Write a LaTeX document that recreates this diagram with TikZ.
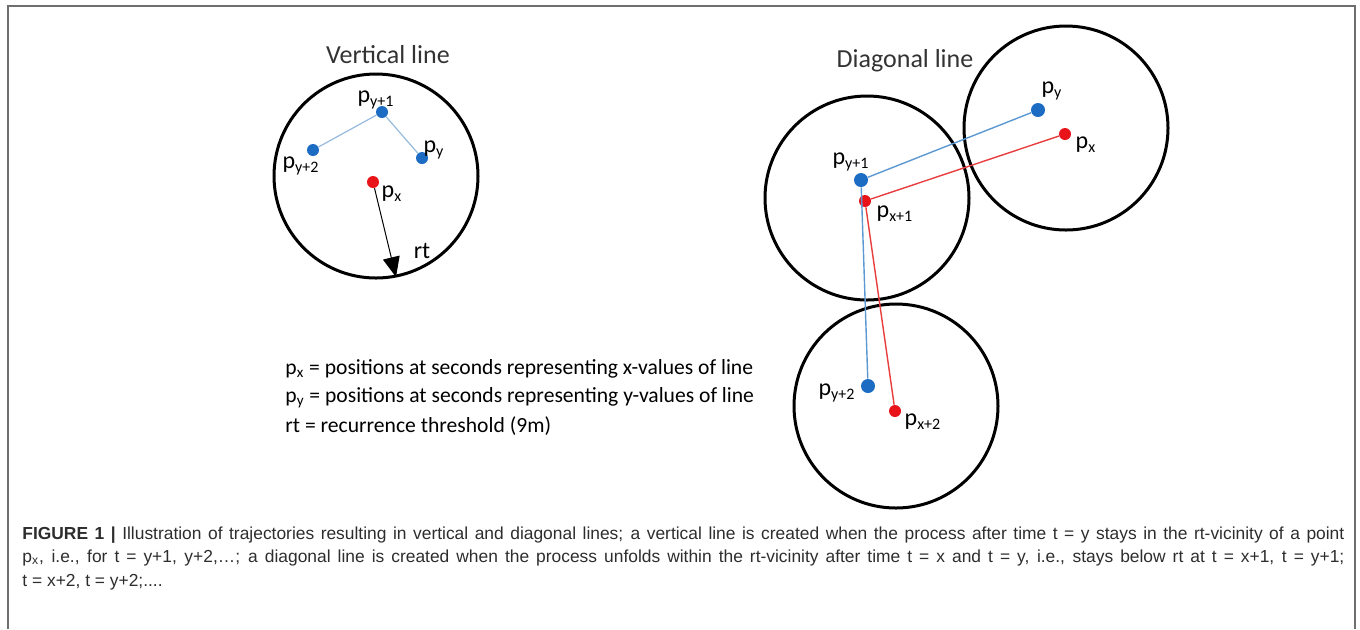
\documentclass[tikz,border=0pt]{standalone}
\usepackage{fontspec}
\setmainfont{Carlito}
\newfontfamily\capfont{Liberation Sans}
\usetikzlibrary{arrows.meta}

\definecolor{dotblue}{RGB}{28,108,196}
\definecolor{dotred}{RGB}{232,20,26}
\definecolor{lineblue}{RGB}{92,152,210}
\definecolor{paleblue}{RGB}{150,186,222}
\definecolor{linered}{RGB}{232,62,62}
\definecolor{framegray}{RGB}{110,110,110}
\definecolor{captext}{RGB}{45,45,45}

\tikzset{
  ring/.style={line width=1.5pt},
  bdot/.style={circle,fill=dotblue,inner sep=0pt,minimum size=6pt},
  rdot/.style={circle,fill=dotred,inner sep=0pt,minimum size=6pt},
  lbl/.style={inner sep=0pt,font=\fontsize{12}{14}\selectfont},
  ttl/.style={inner sep=0pt,text=black!80,font=\fontsize{13}{15}\selectfont},
  legtxt/.style={inner sep=0pt,anchor=west,font=\fontsize{10.8}{13}\selectfont},
  captxt/.style={inner sep=0pt,anchor=west,text=captext,font=\capfont\fontsize{8.7}{10}\selectfont},
}

\begin{document}
\begin{tikzpicture}[x=0.5pt,y=-0.5pt]
  \useasboundingbox (0,0) rectangle (1360,629);
  \draw[framegray,line width=1pt] (7.5,629) -- (7.5,6) -- (1354.5,6) -- (1354.5,629);

  % vertical line
  \draw[ring] (376,176) circle (102);
  \node[ttl] (vtitle) at (388,55) {Vertical line};
  \node[bdot] (vy) at (422,158) {};
  \node[bdot] (vy1) at (382,112) {};
  \node[bdot] (vy2) at (313,150) {};
  \node[rdot] (vx) at (373,182) {};
  \coordinate (rtend) at (396,277);
  \draw[paleblue,line width=0.6pt] (vy) -- (vy1) -- (vy2);
  \draw[line width=0.5pt,-{Triangle[length=10pt,width=8.5pt]}] (vx) -- (rtend);
  \node[lbl] (vylab) at (434,150) {p\textsubscript{y}};
  \node[lbl] (vy1lab) at (376,100) {p\textsubscript{y+1}};
  \node[lbl] (vy2lab) at (301,166) {p\textsubscript{y+2}};
  \node[lbl] (vxlab) at (392,194) {p\textsubscript{x}};
  \node[lbl] (rtlab) at (422,251) {rt};

  % diagonal line
  \draw[ring] (867,198) circle (102);
  \draw[ring] (1066,128) circle (102);
  \draw[ring] (896,406) circle (102);
  \node[ttl] (dtitle) at (905,61) {Diagonal line};
  \node[bdot,minimum size=7pt] (dy) at (1038,110) {};
  \node[bdot,minimum size=7pt] (dy1) at (861,180) {};
  \node[bdot,minimum size=7pt] (dy2) at (868,386) {};
  \node[rdot] (dx) at (1065,134) {};
  \node[rdot] (dx1) at (865,201) {};
  \node[rdot] (dx2) at (895,411) {};
  \draw[lineblue,line width=0.7pt] (dy) -- (dy1) -- (dy2);
  \draw[linered,line width=0.7pt] (dx) -- (dx1) -- (dx2);
  \node[lbl] (dylab) at (1052,91) {p\textsubscript{y}};
  \node[lbl] (dxlab) at (1086,145) {p\textsubscript{x}};
  \node[lbl] (dy1lab) at (851,162) {p\textsubscript{y+1}};
  \node[lbl] (dx1lab) at (895,214) {p\textsubscript{x+1}};
  \node[lbl] (dy2lab) at (837,393) {p\textsubscript{y+2}};
  \node[lbl] (dx2lab) at (923,422) {p\textsubscript{x+2}};

  % legend
  \node[legtxt] (leg1) at (285,369) {p\textsubscript{x} = positions at seconds representing x-values of line};
  \node[legtxt] (leg2) at (285,398) {p\textsubscript{y} = positions at seconds representing y-values of line};
  \node[legtxt] (leg3) at (285,426) {rt = recurrence threshold (9m)};

  % caption
  \node[captxt] (cap1) at (22,535) {\makebox[661pt][s]{\textbf{FIGURE 1 |} Illustration of trajectories resulting in vertical and diagonal lines; a vertical line is created when the process after time t = y stays in the rt-vicinity of a point}};
  \node[captxt] (cap2) at (22,558) {\makebox[661pt][s]{p\textsubscript{x}, i.e., for t = y+1, y+2,\dots; a diagonal line is created when the process unfolds within the rt-vicinity after time t = x and t = y, i.e., stays below rt at t = x+1, t = y+1;}};
  \node[captxt] (cap3) at (22,582) {t = x+2, t = y+2;....};
\end{tikzpicture}
\end{document}
